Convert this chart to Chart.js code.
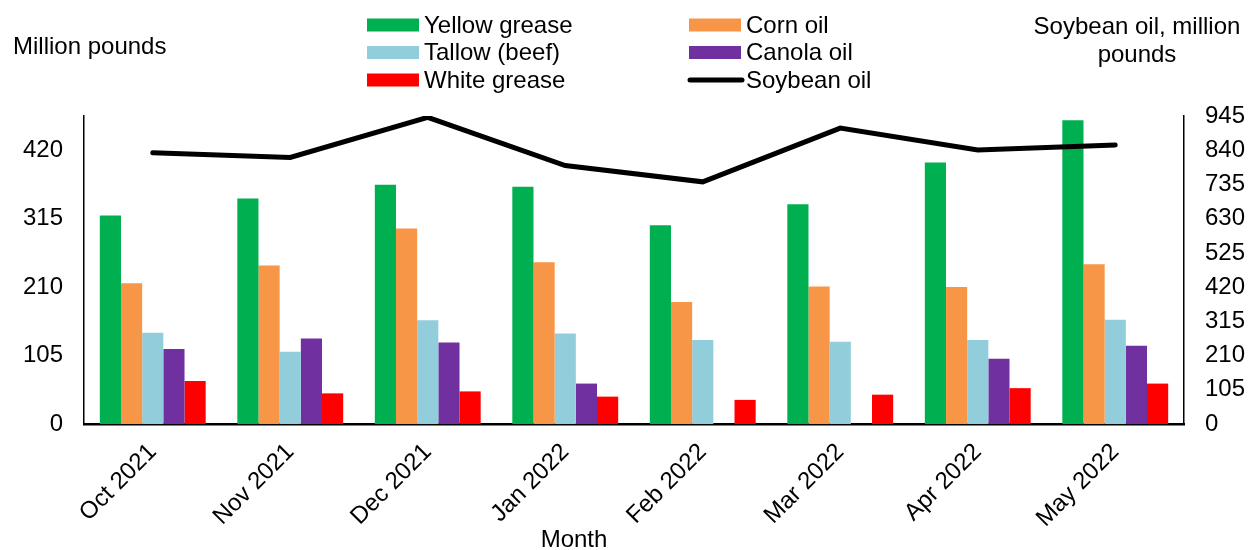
<!DOCTYPE html>
<html>
<head>
<meta charset="utf-8">
<title>Fats and oils used, million pounds</title>
<script src="https://cdn.jsdelivr.net/npm/chart.js@4.4.1/dist/chart.umd.min.js"></script>
<style>
  html, body { margin: 0; padding: 0; background: #fff; }
  #wrap { width: 1249px; height: 550px; position: relative; }
</style>
</head>
<body>
<div id="wrap"><canvas id="c" width="1249" height="550"></canvas></div>
<script>
// Monthly volumes, million pounds
const months = ['Oct 2021', 'Nov 2021', 'Dec 2021', 'Jan 2022', 'Feb 2022', 'Mar 2022', 'Apr 2022', 'May 2022'];
const yellowGrease = [320, 346, 367, 364, 305, 337, 401, 466];
const cornOil      = [216, 243, 300, 248, 187, 211, 210, 245];
const tallowBeef   = [140, 111, 159, 139, 129, 126, 129, 160];
const canolaOil    = [115, 131, 125, 62, null, null, 100, 120];
const whiteGrease  = [66, 47, 50, 42, 37, 45, 55, 62];
const soybeanOil   = [832, 818, 941, 793, 743, 908, 841, 856];

const leftTicks  = [0, 105, 210, 315, 420];
const rightTicks = [0, 105, 210, 315, 420, 525, 630, 735, 840, 945];

const FONT = '"Liberation Sans", Arial, sans-serif';
const FS = 24;

// Two-column legend and the axis captions drawn onto the canvas
const captions = {
  id: 'captions',
  afterDraw(chart) {
    const ctx = chart.ctx;
    ctx.save();
    ctx.fillStyle = '#000';
    ctx.font = FS + 'px ' + FONT;
    ctx.textBaseline = 'middle';

    const colX = [367, 689];
    const rowY = [25, 52.5, 80];
    chart.data.datasets.forEach((ds, i) => {
      const x = colX[i % 2];
      const y = rowY[Math.floor(i / 2)];
      if (ds.type === 'line') {
        ctx.strokeStyle = ds.borderColor;
        ctx.lineWidth = 5;
        ctx.lineCap = 'round';
        ctx.beginPath();
        ctx.moveTo(x + 1, y);
        ctx.lineTo(x + 53, y);
        ctx.stroke();
      } else {
        ctx.fillStyle = ds.backgroundColor;
        ctx.fillRect(x, y - 6.5, 52, 13);
      }
      ctx.fillStyle = '#000';
      ctx.textAlign = 'left';
      ctx.fillText(ds.label, x + 57, y + 1);
    });

    ctx.textAlign = 'left';
    ctx.fillText('Million pounds', 13, 47);
    ctx.textAlign = 'center';
    ctx.fillText('Soybean oil, million', 1137, 27);
    ctx.fillText('pounds', 1137, 55);
    ctx.fillText('Month', 574, 540);
    ctx.restore();
  }
};

function keepTicks(list) {
  return scale => { scale.ticks = list.map(v => ({ value: v })); };
}

new Chart(document.getElementById('c'), {
  data: {
    labels: months,
    datasets: [
      { type: 'bar', label: 'Yellow grease', data: yellowGrease, backgroundColor: '#00B050', yAxisID: 'y', order: 2 },
      { type: 'bar', label: 'Corn oil', data: cornOil, backgroundColor: '#F79646', yAxisID: 'y', order: 2 },
      { type: 'bar', label: 'Tallow (beef)', data: tallowBeef, backgroundColor: '#92CDDC', yAxisID: 'y', order: 2 },
      { type: 'bar', label: 'Canola oil', data: canolaOil, backgroundColor: '#7030A0', yAxisID: 'y', order: 2 },
      { type: 'bar', label: 'White grease', data: whiteGrease, backgroundColor: '#FF0000', yAxisID: 'y', order: 2 },
      { type: 'line', label: 'Soybean oil', data: soybeanOil, borderColor: '#000000', backgroundColor: '#000000',
        borderWidth: 5, pointRadius: 0, borderCapStyle: 'round', borderJoinStyle: 'miter', tension: 0, yAxisID: 'y2', order: 1 }
    ]
  },
  options: {
    responsive: false,
    animation: false,
    layout: { padding: { top: 116, left: 0, right: 0, bottom: 0 } },
    plugins: { legend: { display: false }, tooltip: { enabled: false }, title: { display: false } },
    datasets: { bar: { barPercentage: 1, categoryPercentage: 0.77, borderWidth: 0 } },
    scales: {
      x: {
        grid: { display: false, drawTicks: false },
        border: { display: true, color: '#000', width: 2.5 },
        ticks: { color: '#000', font: { family: FONT, size: FS }, minRotation: 45, maxRotation: 45, padding: 14, autoSkip: false },
        afterFit: s => { s.height = 126; }
      },
      y: {
        position: 'left',
        min: 0, max: 472.5,
        grid: { display: false, drawTicks: false },
        border: { display: true, color: '#000', width: 1.5 },
        ticks: { color: '#000', font: { family: FONT, size: FS }, padding: 21 },
        afterBuildTicks: keepTicks(leftTicks),
        afterFit: s => { s.width = 84; }
      },
      y2: {
        position: 'right',
        min: 0, max: 945,
        grid: { display: false, drawTicks: false },
        border: { display: true, color: '#000', width: 1.5 },
        ticks: { color: '#000', font: { family: FONT, size: FS }, padding: 21 },
        afterBuildTicks: keepTicks(rightTicks),
        afterFit: s => { s.width = 65; }
      }
    }
  },
  plugins: [captions]
});
</script>
</body>
</html>
